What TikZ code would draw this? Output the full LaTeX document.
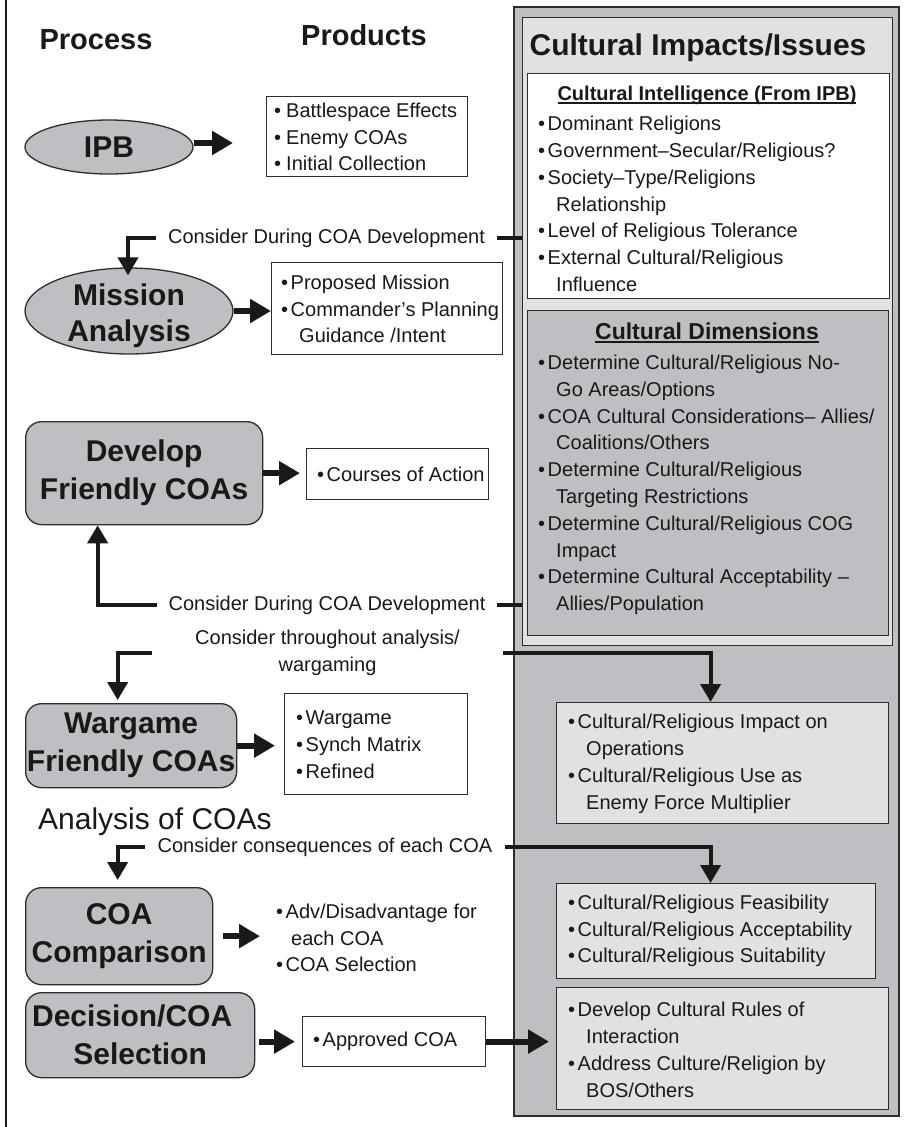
\documentclass[tikz,border=0pt]{standalone}
\usepackage{fontspec}
\setmainfont{Liberation Sans}
\usetikzlibrary{arrows.meta,shapes.geometric,calc}
\definecolor{pgray}{RGB}{190,191,195}
\definecolor{lgray}{RGB}{225,225,228}
\definecolor{bord}{RGB}{45,45,45}
\definecolor{ink}{RGB}{25,25,25}
\newcommand{\bu}{\textbullet\hspace{2.5pt}}
\newcommand{\bw}{\textbullet\hspace{5pt}}
\newcommand{\ct}{\hspace*{18pt}}
\newcommand{\thickul}[1]{\setbox0\hbox{#1}\rlap{\raisebox{-3.5pt}{\rule{\wd0}{1.8pt}}}\box0}
\begin{document}
\begin{tikzpicture}[x=1pt,y=-1pt,
  every node/.style={text=ink, inner sep=0pt},
  body/.style={font=\fontsize{20}{26.8}\selectfont, align=left},
  bold/.style={font=\fontsize{30}{38}\selectfont\bfseries, align=center},
  procbox/.style={draw=bord, line width=1.3pt, fill=pgray, rounded corners=16pt, anchor=north west, bold},
  procell/.style={draw=bord, line width=1.3pt, fill=pgray, ellipse},
  pbox/.style={draw=bord, line width=1.2pt, fill=white, anchor=north west},
  lbox/.style={draw=bord, line width=1.2pt, fill=lgray, anchor=north west},
  big/.style={line width=6pt, draw=ink, -{Triangle[length=21pt,width=23pt]}},
  conn/.style={line width=4pt, draw=ink},
  connar/.style={conn, -{Triangle[length=18pt,width=20pt]}},
  lab/.style={body, align=center}
]
\useasboundingbox (0,0) rectangle (907,1127);
\fill[white] (0,0) rectangle (907,1127);
\draw[line width=2.2pt, ink] (6,0) -- (6,1127);

% headers
\node[font=\fontsize{29}{34}\selectfont\bfseries] (hproc) at (96,40) {Process};
\node[font=\fontsize{29}{34}\selectfont\bfseries] (hprod) at (364,35) {Products};

% right panel
\node[draw=bord, line width=1.5pt, fill=pgray, anchor=north west, minimum width=385pt, minimum height=1109pt] (panel) at (513,6) {};
\node[lbox, minimum width=370pt, minimum height=628pt] (ibox) at (522,17) {};
\node[font=\fontsize{30}{36}\selectfont\bfseries] (title) at (698,48) {Cultural Impacts/Issues};
\node[pbox, minimum width=362pt, minimum height=225pt] (intel) at (527,73) {};
\node[font=\fontsize{20}{24}\selectfont\bfseries] (intelh) at (707,95) {\thickul{Cultural Intelligence (From IPB)}};
\node[body, anchor=west] (intelt) at (538,204) {\bu Dominant Religions\\
\bu Government–Secular/Religious?\\
\bu Society–Type/Religions\\
\ct Relationship\\
\bu Level of Religious Tolerance\\
\bu External Cultural/Religious\\
\ct Influence};
\node[draw=bord, line width=1.2pt, fill=pgray, anchor=north west, minimum width=361pt, minimum height=325pt] (dims) at (527,310) {};
\node[font=\fontsize{23}{28}\selectfont\bfseries] (dimsh) at (707,333) {\thickul{Cultural Dimensions}};
\node[body, anchor=west] (dimst) at (538,485) {\bu Determine Cultural/Religious No-\\
\ct Go Areas/Options\\
\bu COA Cultural Considerations– Allies/\\
\ct Coalitions/Others\\
\bu Determine Cultural/Religious\\
\ct Targeting Restrictions\\
\bu Determine Cultural/Religious COG\\
\ct Impact\\
\bu Determine Cultural Acceptability –\\
\ct Allies/Population};

\node[lbox, minimum width=332pt, minimum height=121pt] (impact) at (556,702) {};
\node[body, anchor=west] (impactt) at (568,764) {\bu Cultural/Religious Impact on\\
\ct Operations\\
\bu Cultural/Religious Use as\\
\ct Enemy Force Multiplier};
\node[lbox, minimum width=319pt, minimum height=95pt] (feas) at (556,883) {};
\node[body, anchor=west] (feast) at (568,931) {\bu Cultural/Religious Feasibility\\
\bu Cultural/Religious Acceptability\\
\bu Cultural/Religious Suitability};
\node[lbox, minimum width=332pt, minimum height=122pt] (rules) at (556,987) {};
\node[body, anchor=west] (rulest) at (568,1050) {\bu Develop Cultural Rules of\\
\ct Interaction\\
\bu Address Culture/Religion by\\
\ct BOS/Others};

% process column
\node[procell, minimum width=168pt, minimum height=54pt, font=\fontsize{30}{36}\selectfont\bfseries] (ipb) at (109,147) {IPB};
\node[procell, minimum width=208pt, minimum height=86pt] (mis) at (129,311) {};
\node[font=\fontsize{30}{36}\selectfont\bfseries, align=center] (mist) at (129,316) {Mission\\Analysis};
\node[procbox, minimum width=237pt, minimum height=103pt] (dev) at (25,421) {Develop\\Friendly COAs};
\node[procbox, minimum width=211pt, minimum height=84pt] (wg) at (25,703) {Wargame\\Friendly COAs};
\node[procbox, minimum width=187pt, minimum height=97pt] (coa) at (25,887) {COA\\Comparison};
\node[procbox, minimum width=229pt, minimum height=85pt] (dec) at (25,992) {Decision/COA\hspace*{16pt}\\Selection};

% products
\node[pbox, minimum width=201pt, minimum height=80pt] (ipbp) at (266,96) {};
\node[body, anchor=west] (ipbpt) at (274,137) {\bw Battlespace Effects\\ \bw Enemy COAs\\ \bw Initial Collection};
\node[pbox, minimum width=231pt, minimum height=92pt] (missp) at (271,262) {};
\node[body, anchor=west] (misspt) at (281,309) {\bu Proposed Mission\\ \bu Commander’s Planning\\ \ct Guidance /Intent};
\node[pbox, minimum width=182pt, minimum height=51pt] (devp) at (306,448) {};
\node[body, anchor=west] (devpt) at (317,474) {\bu Courses of Action};
\node[pbox, minimum width=183pt, minimum height=101pt] (wgp) at (284,693) {};
\node[body, anchor=west] (wgpt) at (296,745) {\bu Wargame\\ \bu Synch Matrix\\ \bu Refined};
\node[body, anchor=west] (coap) at (276,938) {\bu Adv/Disadvantage for\\ \hspace*{15pt}each COA\\ \bu COA Selection};
\node[pbox, minimum width=183pt, minimum height=50pt] (appr) at (302,1016) {};
\node[body, anchor=west] (apprt) at (313,1041) {\bu Approved COA};

\node[font=\fontsize{30}{36}\selectfont, anchor=west] (anal) at (38,822) {Analysis of COAs};

% labels on connectors
\node[lab, minimum width=341pt] (lab1) at (326.5,238) {Consider During COA Development};
\node[lab, minimum width=340pt] (lab2) at (327,605) {Consider During COA Development};
\node[lab, minimum width=351pt] (lab3) at (327.5,653) {Consider throughout analysis/\\wargaming};
\node[lab, minimum width=360pt] (lab4) at (325,847) {Consider consequences of each COA};

% big arrows process -> products
\draw[big, shorten >=33pt] ([yshift=4pt]ipb.east) -- ([yshift=4pt]ipb.east -| ipbp.west);
\draw[big] (mis.east) -- (mis.east -| missp.west);
\draw[big, shorten >=6pt] (dev.east) -- (dev.east -| devp.west);
\draw[big, shorten >=9pt] (wg.east) -- (wg.east -| wgp.west);
\draw[big, shorten <=10pt, shorten >=16pt] (coa.east) -- (coa.east -| coap.west);
\draw[big, shorten <=4pt, shorten >=7pt] (dec.east |- appr.west) -- (appr.west);
\draw[big, shorten >=7pt] (appr.east) -- (appr.east -| rules.west);

% consider connectors
\draw[conn] (lab1.east) -- (lab1.east -| ibox.west);
\draw[connar, shorten >=-8pt] (lab1.west) -| ([xshift=-1pt]mis.north);
\draw[conn] (lab2.east) -- (lab2.east -| ibox.west);
\draw[connar] (lab2.west) -| ([xshift=-46.5pt]dev.south);
\draw[connar, shorten >=3pt] (lab3.west) -| ([xshift=-13.5pt]wg.north);
\draw[connar] (lab3.east) -| ([xshift=-12pt]impact.north);
\draw[connar, shorten >=7pt] (lab4.west) -| ([xshift=-1.5pt]coa.north);
\draw[connar] (lab4.east) -| ([xshift=-5.5pt]feas.north);
\end{tikzpicture}
\end{document}
